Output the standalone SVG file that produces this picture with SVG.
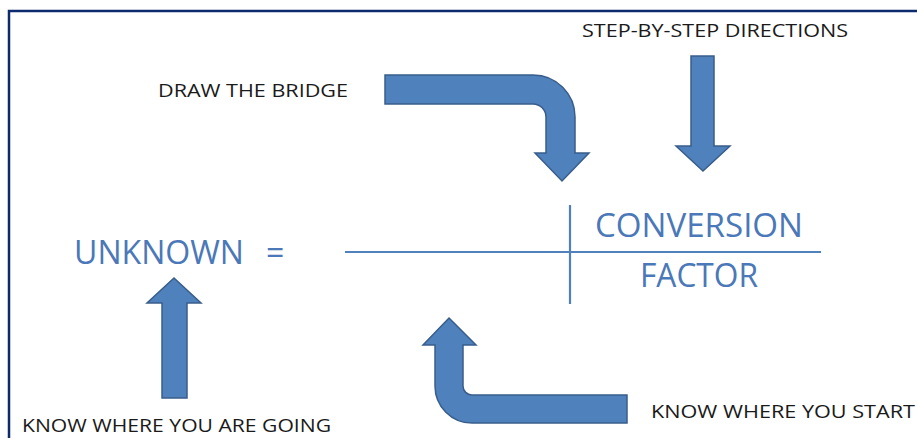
<svg xmlns="http://www.w3.org/2000/svg" width="917" height="438" viewBox="0 0 917 438">
<style>
.bg{fill:#ffffff}
.frame{fill:none;stroke:#0c2b6e;stroke-width:2.5}
.arrow{fill:#4f81bd;stroke:#385d8a;stroke-width:1.5;stroke-linejoin:miter}
.rule{stroke:#4f81bd;stroke-width:2.2;fill:none}
.big{font-family:"Open Sans","Liberation Sans",sans-serif;font-size:32px;fill:#4a78b8}
.small{font-family:"Open Sans","Liberation Sans",sans-serif;font-size:19px;fill:#1a1a1a}
</style>
<rect class="bg" x="0" y="0" width="917" height="438"/>
<rect class="frame" x="9" y="11" width="930" height="460"/>

<g id="connectors">
  <path id="arrow-bridge" class="arrow" d="M385,75 L533,75 A42,42 0 0 1 575,117 L575,153 L589,153 L562,181 L535,153 L546,153 L546,117 A13,13 0 0 0 533,104 L385,104 Z"/>
  <path id="arrow-steps" class="arrow" d="M691,56 L714,56 L714,146 L730,146 L703,171 L676,146 L691,146 Z"/>
  <path id="arrow-going" class="arrow" d="M174,278 L201,303 L187,303 L187,398 L162,398 L162,303 L147,303 Z"/>
  <path id="arrow-start" class="arrow" d="M449,318 L476,345 L463,345 L463,386 A9,9 0 0 0 472,395 L627,395 L627,423 L472,423 A37,37 0 0 1 435,386 L435,345 L423,345 Z"/>
</g>

<g id="fraction">
  <line class="rule" x1="345" y1="252" x2="821" y2="252"/>
  <line class="rule" x1="570" y1="205" x2="570" y2="304"/>
</g>

<g id="node-unknown">
  <text class="big" x="74" y="264" textLength="170" lengthAdjust="spacingAndGlyphs">UNKNOWN</text>
  <text class="big" x="266" y="264">=</text>
</g>
<g id="node-conversion">
  <text class="big" x="595" y="237" textLength="208" lengthAdjust="spacingAndGlyphs">CONVERSION</text>
</g>
<g id="node-factor">
  <text class="big" x="640" y="287" textLength="118" lengthAdjust="spacingAndGlyphs">FACTOR</text>
</g>
<g id="label-steps">
  <text class="small" x="582" y="37" textLength="266" lengthAdjust="spacingAndGlyphs">STEP-BY-STEP DIRECTIONS</text>
</g>
<g id="label-bridge">
  <text class="small" x="158" y="97" textLength="190" lengthAdjust="spacingAndGlyphs">DRAW THE BRIDGE</text>
</g>
<g id="label-start">
  <text class="small" x="651" y="418" textLength="264" lengthAdjust="spacingAndGlyphs">KNOW WHERE YOU START</text>
</g>
<g id="label-going">
  <text class="small" x="22" y="432" textLength="309" lengthAdjust="spacingAndGlyphs">KNOW WHERE YOU ARE GOING</text>
</g>
</svg>
